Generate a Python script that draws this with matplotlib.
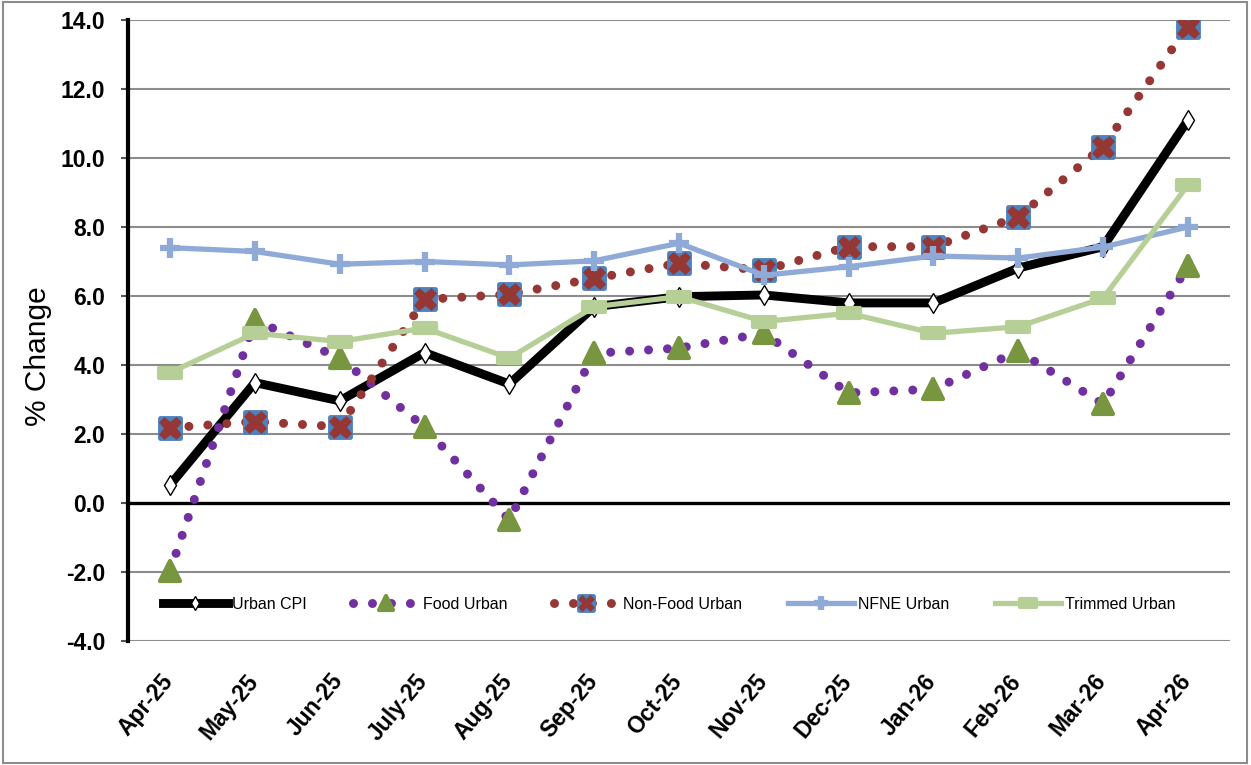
import matplotlib
matplotlib.use('Agg')
import matplotlib.pyplot as plt
from matplotlib.markers import MarkerStyle
from matplotlib.path import Path
from matplotlib.patches import Rectangle
from matplotlib.legend_handler import HandlerTuple
from matplotlib.transforms import ScaledTranslation

months = ['Apr-25', 'May-25', 'Jun-25', 'July-25', 'Aug-25', 'Sep-25', 'Oct-25',
          'Nov-25', 'Dec-25', 'Jan-26', 'Feb-26', 'Mar-26', 'Apr-26']
urban_cpi = [0.52, 3.49, 2.96, 4.36, 3.45, 5.69, 5.98, 6.03, 5.8, 5.8, 6.81, 7.43, 11.1]
food_urban = [-1.98, 5.3, 4.2, 2.2, -0.49, 4.34, 4.49, 4.92, 3.19, 3.3, 4.4, 2.87, 6.87]
nonfood_urban = [2.18, 2.36, 2.21, 5.9, 6.05, 6.51, 6.95, 6.75, 7.43, 7.43, 8.3, 10.33, 13.81]
nfne_urban = [7.4, 7.29, 6.92, 7.0, 6.9, 7.02, 7.53, 6.6, 6.85, 7.16, 7.1, 7.42, 8.0]
trimmed_urban = [3.78, 4.92, 4.68, 5.07, 4.2, 5.69, 5.98, 5.26, 5.5, 4.92, 5.11, 5.94, 9.22]
series_names = ['Urban CPI', 'Food Urban', 'Non-Food Urban', 'NFNE Urban', 'Trimmed Urban']
yticks = [-4, -2, 0, 2, 4, 6, 8, 10, 12, 14]

plt.rcParams['font.family'] = ['Liberation Sans', 'DejaVu Sans']

W, H = 1251, 765
fig = plt.figure(figsize=(W / 100, H / 100), dpi=100)
ax = fig.add_axes([127.6 / W, 1 - 641 / H, (1230.4 - 127.6) / W, (641 - 20) / H])

x = list(range(len(months)))

# Urban CPI
l1, = ax.plot(x, urban_cpi, color='black', lw=6.4, solid_joinstyle='miter',
              marker='d', ms=10, mfc='white', mec='black', mew=1, zorder=3)

# Food Urban
dot = (0, (0.001, 2.1))
l2, = ax.plot(x, food_urban, color='#7030a0', lw=6.5, linestyle=dot,
              dash_capstyle='round', zorder=4)
m2, = ax.plot(x, food_urban, linestyle='none',
              marker=MarkerStyle('^', joinstyle='round'), ms=14, mfc='#77963f',
              mec='#77963f', mew=3, zorder=4)

# Non-Food Urban
l3, = ax.plot(x, nonfood_urban, color='#953735', lw=6.5, linestyle=dot,
              dash_capstyle='round', zorder=5)
m3a, = ax.plot(x, nonfood_urban, linestyle='none',
               marker=MarkerStyle('s', joinstyle='round'), ms=14.5, mfc='#4f81bd',
               mec='#4f81bd', mew=3.5, zorder=5)
m3b, = ax.plot(x, nonfood_urban, linestyle='none', marker='X', ms=16,
               mfc='#953735', mec='#953735', mew=0.5, zorder=5)

# NFNE Urban
l4, = ax.plot(x, nfne_urban, color='#8faad6', lw=3.8, marker='+', ms=14,
              mec='#8faad6', mew=4.5, zorder=6)

# Trimmed Urban
rr = Path([(-1, -0.48), (1, -0.48), (1, 0.48), (-1, 0.48), (-1, -0.48)],
          [Path.MOVETO, Path.LINETO, Path.LINETO, Path.LINETO, Path.CLOSEPOLY])
l5, = ax.plot(x, trimmed_urban, color='#b6cf96', lw=3.8,
              marker=MarkerStyle(rr, joinstyle='round'), ms=16, mfc='#b6cf96',
              mec='#b6cf96', mew=3, zorder=7)

ax.set_xlim(-0.5, 12.5)
ax.set_ylim(-4, 14)
ax.set_yticks(yticks)
ax.set_yticklabels([f'{v:.1f}' for v in yticks], fontsize=16.5, fontweight='bold')
ax.set_xticks(x)
ax.set_xticklabels(months, rotation=50, ha='right', va='center',
                   rotation_mode='anchor', fontsize=16.5, fontweight='bold')
ax.tick_params(axis='x', length=0, pad=26)
off = ScaledTranslation(-1 / 100, 0, fig.dpi_scale_trans)
for lab in ax.get_xticklabels():
    lab.set_transform(lab.get_transform() + off)
ax.tick_params(axis='y', length=5, width=1.5, color='#555555', pad=11)

for v in yticks:
    if v == 0:
        ax.axhline(0, color='black', lw=2.4, zorder=2)
    else:
        ax.axhline(v, color='#8c8c8c', lw=1.5, zorder=1)

for s in ['top', 'right', 'bottom']:
    ax.spines[s].set_visible(False)
ax.spines['left'].set_linewidth(3)
ax.spines['left'].set_color('black')

ax.set_ylabel('% Change', fontsize=21.5)
ax.yaxis.set_label_coords((52 - 127.6) / 1102.8, (641 - 356) / 621)

handles = [l1, (l2, m2), (l3, m3a, m3b), l4, l5]
leg = ax.legend(handles, series_names, loc='center', ncol=5,
                bbox_to_anchor=(0.491, (-2.93 + 4) / 18), frameon=False,
                handlelength=4.1, handletextpad=0.25, columnspacing=2.9,
                numpoints=1, markerscale=0.7,
                handler_map={tuple: HandlerTuple(ndivide=1, pad=0)},
                prop={'size': 11.5})

fig.patches.append(Rectangle((3 / W, 2 / H), (1247 - 3) / W, (763 - 2) / H,
                             transform=fig.transFigure, fill=False,
                             edgecolor='#8c8c8c', lw=1.5))

fig.savefig('out.png', dpi=100)
